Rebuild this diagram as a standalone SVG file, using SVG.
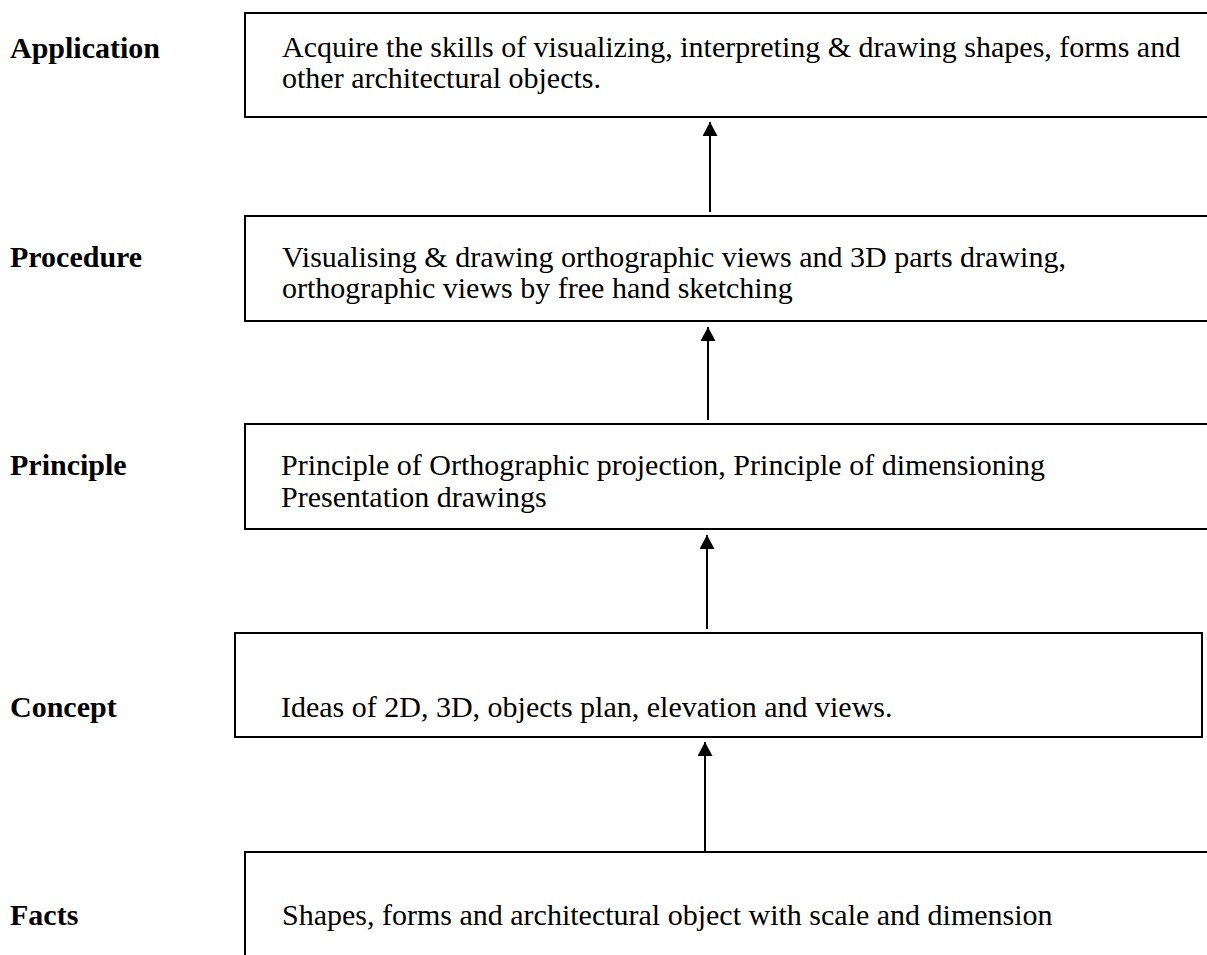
<svg xmlns="http://www.w3.org/2000/svg" width="1207" height="955" viewBox="0 0 1207 955">
  <style>
    .box { fill: #ffffff; stroke: #000000; stroke-width: 2; }
    .lbl { font-family: "Liberation Serif", "Times New Roman", serif; font-weight: bold; font-size: 30px; fill: #000000; }
    .txt { font-family: "Liberation Serif", "Times New Roman", serif; font-size: 30px; fill: #000000; }
    .link { stroke: #000000; stroke-width: 2; fill: none; marker-end: url(#head); }
  </style>
  <defs>
    <marker id="head" markerUnits="userSpaceOnUse" markerWidth="16" markerHeight="16" refX="14" refY="7.5" orient="auto">
      <path d="M0,0 L14,7.5 L0,15 Z" fill="#000000"/>
    </marker>
  </defs>
  <rect width="1207" height="955" fill="#ffffff"/>

  <g id="application">
    <rect class="box" x="245" y="13" width="970" height="104"/>
    <text class="lbl" x="10" y="58">Application</text>
    <text class="txt" x="282" y="57">Acquire the skills of visualizing, interpreting &amp; drawing shapes, forms and</text>
    <text class="txt" x="282" y="88">other architectural objects.</text>
  </g>

  <g id="procedure">
    <rect class="box" x="245" y="216" width="970" height="105"/>
    <text class="lbl" x="10" y="267">Procedure</text>
    <text class="txt" x="282" y="267">Visualising &amp; drawing orthographic views and 3D parts drawing,</text>
    <text class="txt" x="282" y="298">orthographic views by free hand sketching</text>
  </g>

  <g id="principle">
    <rect class="box" x="245" y="424" width="970" height="105"/>
    <text class="lbl" x="10" y="475">Principle</text>
    <text class="txt" x="281" y="475">Principle of Orthographic projection, Principle of dimensioning</text>
    <text class="txt" x="281" y="507">Presentation drawings</text>
  </g>

  <g id="concept">
    <rect class="box" x="235" y="633" width="967" height="104"/>
    <text class="lbl" x="10" y="717">Concept</text>
    <text class="txt" x="281" y="717">Ideas of 2D, 3D, objects plan, elevation and views.</text>
  </g>

  <g id="facts">
    <rect class="box" x="245" y="852" width="970" height="120"/>
    <text class="lbl" x="10" y="925">Facts</text>
    <text class="txt" x="282" y="925">Shapes, forms and architectural object with scale and dimension</text>
  </g>

  <g id="connectors">
    <line class="link" x1="710" y1="212" x2="710" y2="122"/>
    <line class="link" x1="708" y1="420" x2="708" y2="327"/>
    <line class="link" x1="707" y1="629" x2="707" y2="535"/>
    <line class="link" x1="705" y1="852" x2="705" y2="742"/>
  </g>
</svg>
